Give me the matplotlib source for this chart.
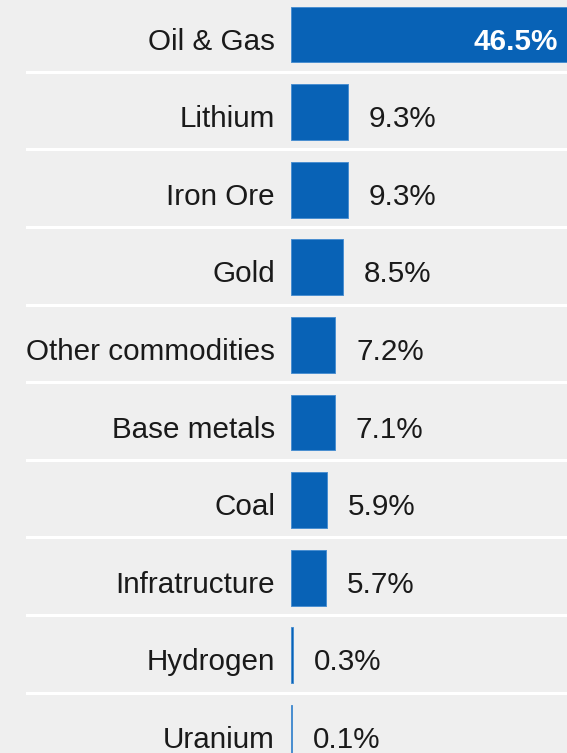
import matplotlib
matplotlib.use('Agg')
import matplotlib.pyplot as plt

categories = ['Oil & Gas', 'Lithium', 'Iron Ore', 'Gold', 'Other commodities',
              'Base metals', 'Coal', 'Infratructure', 'Hydrogen', 'Uranium']
shares = [46.5, 9.3, 9.3, 8.5, 7.2, 7.1, 5.9, 5.7, 0.3, 0.1]

bg = '#efefef'
blue = '#0862b6'
plt.rcParams['font.family'] = ['Liberation Sans', 'DejaVu Sans']

fig = plt.figure(figsize=(5.67, 7.53), dpi=100, facecolor=bg)
# axes start where the bars start
ax = fig.add_axes([291 / 567, 0, 1 - 291 / 567, 1], facecolor=bg)

pos = list(range(len(categories)))
ax.barh(pos, shares, height=0.72, color=blue, edgecolor='#4a8fd0', lw=0.7, zorder=2)

ax.set_xlim(0, 276 / 6.13)
ax.set_ylim((753 - 34.5) / 77.6, -34.5 / 77.6)
ax.axis('off')

# white separators reaching to the left under the labels
for i in range(len(categories) - 1):
    ax.axhline(i + 0.48, xmin=-264 / 276, xmax=1, color='white', lw=2.2,
               clip_on=False, zorder=1)

for i, (cat, v) in enumerate(zip(categories, shares)):
    ax.annotate(cat, (0, i), xytext=(-16, -15), textcoords='offset pixels',
                ha='right', va='baseline', fontsize=21.3, color='#1a1a1a',
                annotation_clip=False)
    if v > 20:
        ax.annotate(f'{v}%', (v, i), xytext=(-18, -15), textcoords='offset pixels',
                    ha='right', va='baseline', fontsize=21.3, color='white',
                    fontweight='bold', annotation_clip=False)
    else:
        ax.annotate(f'{v}%', (v, i), xytext=(21, -15), textcoords='offset pixels',
                    ha='left', va='baseline', fontsize=21.3, color='#1a1a1a',
                    annotation_clip=False)

fig.savefig('out.png', dpi=100, facecolor=bg)
